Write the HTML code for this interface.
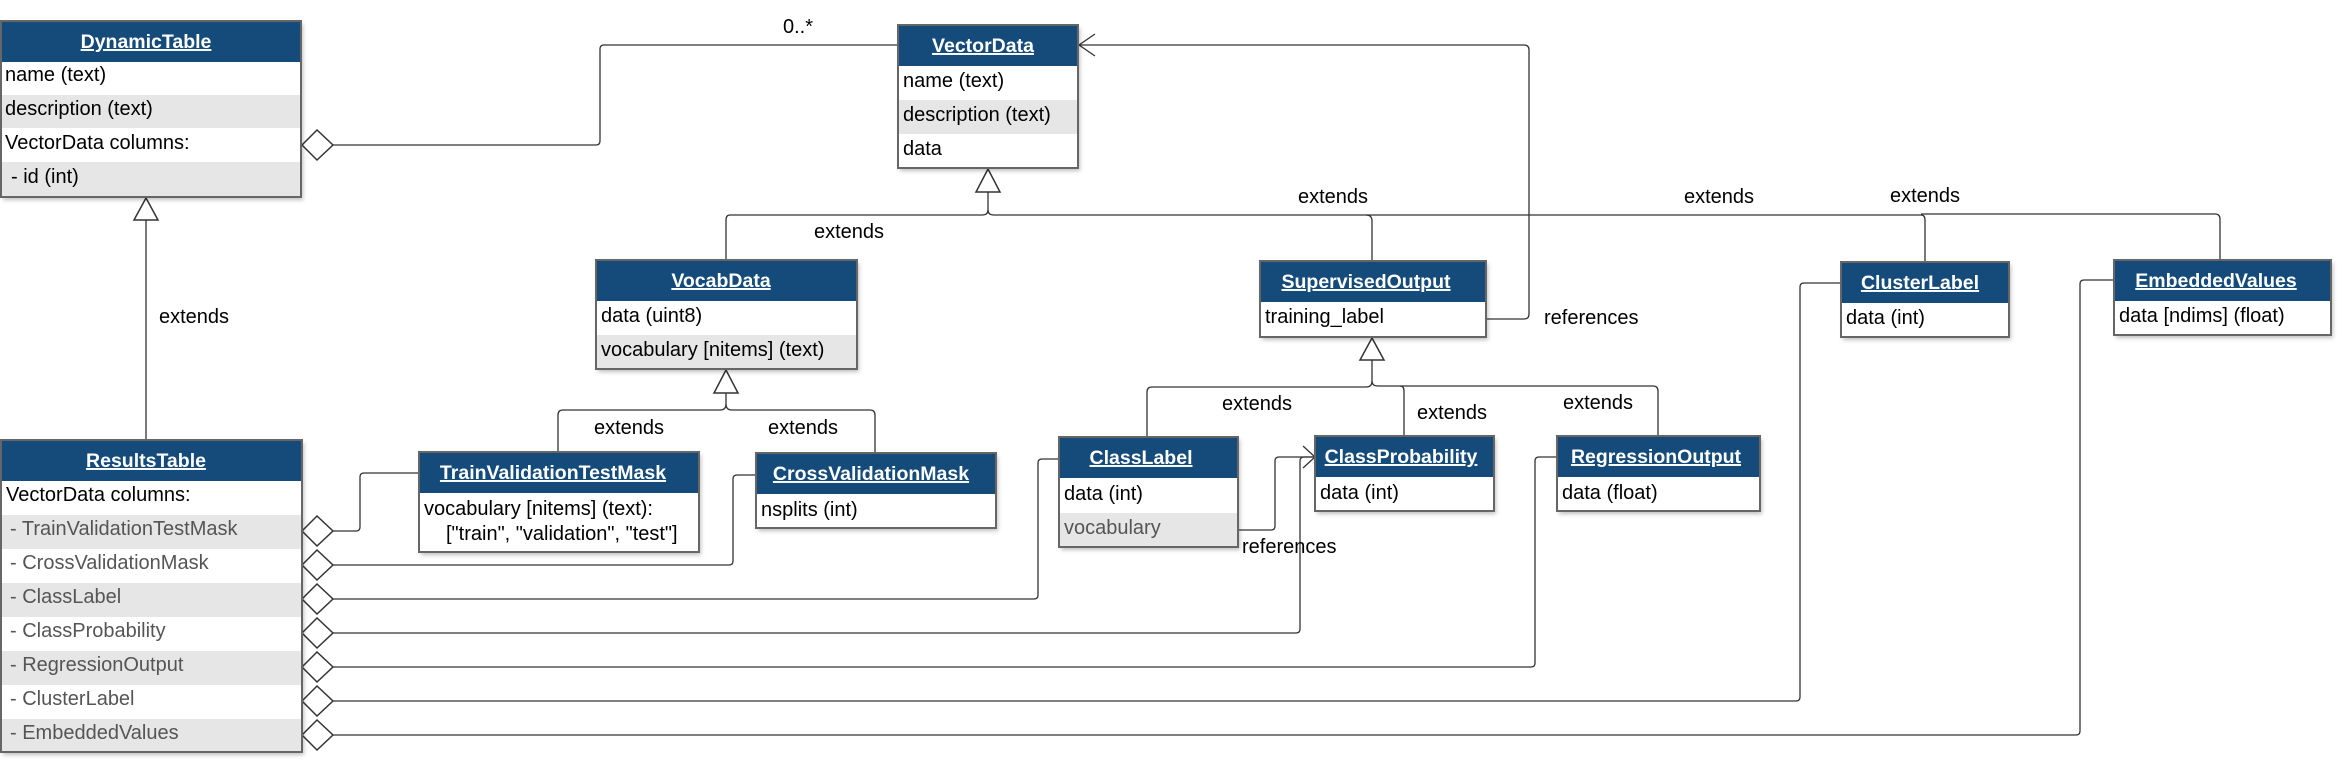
<!DOCTYPE html>
<html><head><meta charset="utf-8"><style>
html,body{margin:0;padding:0;background:#fff;}
svg{display:block;font-family:"Liberation Sans",Arial,sans-serif;}
.h{fill:#154b7a;}
.ht{fill:#fff;font-weight:bold;font-size:19.5px;text-decoration:underline;text-anchor:middle;}
.t{font-size:20px;fill:#000;}
.g{font-size:20px;fill:#555;}
.l{fill:none;stroke:#333;stroke-width:1.3;}
.b{fill:none;stroke:#666;stroke-width:2;}
</style></head><body>
<svg width="2349" height="769" viewBox="0 0 2349 769" xmlns="http://www.w3.org/2000/svg">
<defs><filter id="s" x="-5%" y="-5%" width="115%" height="120%"><feDropShadow dx="2" dy="3" stdDeviation="2" flood-color="#000" flood-opacity="0.25"/></filter></defs>

<!-- connectors -->
<path class="l" d="M333 145 H596 Q600 145 600 141 V49 Q600 45 604 45 H898"/>
<text class="t" x="798" y="33" text-anchor="middle">0..*</text>
<path class="l" d="M146 220 V440"/>
<text class="t" x="194" y="323" text-anchor="middle">extends</text>
<path class="l" stroke-width="2" d="M988 192 V210 Q988 215 994 215 H1921"/>
<path class="l" d="M988 210 Q988 215 982 215 H730 Q726 215 726 220 V260"/>
<text class="t" x="849" y="238" text-anchor="middle">extends</text>
<path class="l" d="M1921 215 Q1925 215 1925 220 V262"/>
<path class="l" d="M1921 214 H2215 Q2220 214 2220 219 V260"/>
<path class="l" d="M1366 215 Q1372 215 1372 221 V261"/>
<text class="t" x="1333" y="203" text-anchor="middle">extends</text>
<text class="t" x="1719" y="203" text-anchor="middle">extends</text>
<text class="t" x="1925" y="202" text-anchor="middle">extends</text>
<path class="l" d="M1079 45 H1524 Q1529 45 1529 50 V314 Q1529 319 1524 319 H1486"/>
<path class="l" d="M1095 34 L1079 45 L1095 56"/>
<text class="t" x="1544" y="324">references</text>
<path class="l" d="M1372 360 V381 Q1372 387 1366 387 H1152 Q1147 387 1147 392 V437"/>
<path class="l" d="M1372 381 Q1372 386 1378 386 H1653 Q1658 386 1658 391 V436"/>
<path class="l" d="M1400 386 Q1404 386 1404 391 V436"/>
<text class="t" x="1257" y="410" text-anchor="middle">extends</text>
<text class="t" x="1452" y="419" text-anchor="middle">extends</text>
<text class="t" x="1598" y="409" text-anchor="middle">extends</text>
<path class="l" d="M726 393 V404 Q726 410 720 410 H563 Q558 410 558 415 V452"/>
<path class="l" d="M726 404 Q726 410 732 410 H870 Q875 410 875 415 V453"/>
<text class="t" x="629" y="434" text-anchor="middle">extends</text>
<text class="t" x="803" y="434" text-anchor="middle">extends</text>
<!-- diamond connectors -->
<path class="l" d="M333 531 H356 Q360 531 360 527 V477 Q360 473 364 473 H419"/>
<path class="l" d="M333 565 H729 Q733 565 733 561 V479 Q733 475 737 475 H756"/>
<path class="l" d="M333 599 H1034 Q1038 599 1038 595 V463 Q1038 459 1042 459 H1059"/>
<path class="l" d="M333 633 H1296 Q1300 633 1300 629 V461 Q1300 457 1304 457 H1315"/>
<path class="l" d="M1238 530 H1271 Q1275 530 1275 526 V461 Q1275 457 1279 457 H1315"/>
<path class="l" d="M1303 446 L1315 457 L1303 468"/>
<text class="t" x="1242" y="553">references</text>
<path class="l" d="M333 667 H1531 Q1535 667 1535 663 V461 Q1535 457 1539 457 H1557"/>
<path class="l" d="M333 701 H1796 Q1800 701 1800 697 V287 Q1800 283 1804 283 H1841"/>
<path class="l" d="M333 735 H2076 Q2080 735 2080 731 V284 Q2080 280 2084 280 H2114"/>
<!-- triangles -->
<path fill="#fff" stroke="#333" stroke-width="1.5" d="M988 169 L976 192 H1000 Z"/>
<path fill="#fff" stroke="#333" stroke-width="1.5" d="M146 198 L134 220 H158 Z"/>
<path fill="#fff" stroke="#333" stroke-width="1.5" d="M726 370 L714 393 H738 Z"/>
<path fill="#fff" stroke="#333" stroke-width="1.5" d="M1372 338 L1360 360 H1384 Z"/>
<!-- diamonds -->
<g fill="#fff" stroke="#333" stroke-width="1.5">
<path d="M302 145 L317 130 L333 145 L317 160 Z"/>
<path d="M302 531 L317 516 L333 531 L317 546 Z"/>
<path d="M302 565 L317 550 L333 565 L317 580 Z"/>
<path d="M302 599 L317 584 L333 599 L317 614 Z"/>
<path d="M302 633 L317 618 L333 633 L317 648 Z"/>
<path d="M302 667 L317 652 L333 667 L317 682 Z"/>
<path d="M302 701 L317 686 L333 701 L317 716 Z"/>
<path d="M302 735 L317 720 L333 735 L317 750 Z"/>
</g>

<!-- DynamicTable -->
<g filter="url(#s)"><rect x="1" y="21" width="300" height="176" fill="#fff"/></g>
<rect class="h" x="1" y="21" width="300" height="41"/>
<rect x="1" y="95" width="300" height="33" fill="#e6e6e6"/>
<rect x="1" y="162" width="300" height="35" fill="#e6e6e6"/>
<rect class="b" x="1" y="21" width="300" height="176"/>
<text class="ht" x="146" y="48">DynamicTable</text>
<text class="t" x="5" y="81">name (text)</text>
<text class="t" x="5" y="115">description (text)</text>
<text class="t" x="5" y="149">VectorData columns:</text>
<text class="t" x="11" y="183">- id (int)</text>

<!-- VectorData -->
<g filter="url(#s)"><rect x="898" y="25" width="180" height="143" fill="#fff"/></g>
<rect class="h" x="898" y="25" width="180" height="41"/>
<rect x="898" y="100" width="180" height="34" fill="#e6e6e6"/>
<rect class="b" x="898" y="25" width="180" height="143"/>
<text class="ht" x="983" y="52">VectorData</text>
<text class="t" x="903" y="87">name (text)</text>
<text class="t" x="903" y="121">description (text)</text>
<text class="t" x="903" y="155">data</text>

<!-- VocabData -->
<g filter="url(#s)"><rect x="596" y="260" width="261" height="109" fill="#fff"/></g>
<rect class="h" x="596" y="260" width="261" height="41"/>
<rect x="596" y="335" width="261" height="34" fill="#e6e6e6"/>
<rect class="b" x="596" y="260" width="261" height="109"/>
<text class="ht" x="721" y="287">VocabData</text>
<text class="t" x="601" y="322">data (uint8)</text>
<text class="t" x="601" y="356">vocabulary [nitems] (text)</text>

<!-- SupervisedOutput -->
<g filter="url(#s)"><rect x="1260" y="261" width="226" height="76" fill="#fff"/></g>
<rect class="h" x="1260" y="261" width="226" height="41"/>
<rect class="b" x="1260" y="261" width="226" height="76"/>
<text class="ht" x="1366" y="288">SupervisedOutput</text>
<text class="t" x="1265" y="323">training_label</text>

<!-- ClusterLabel -->
<g filter="url(#s)"><rect x="1841" y="262" width="168" height="75" fill="#fff"/></g>
<rect class="h" x="1841" y="262" width="168" height="41"/>
<rect class="b" x="1841" y="262" width="168" height="75"/>
<text class="ht" x="1920" y="289">ClusterLabel</text>
<text class="t" x="1846" y="324">data (int)</text>

<!-- EmbeddedValues -->
<g filter="url(#s)"><rect x="2114" y="260" width="217" height="75" fill="#fff"/></g>
<rect class="h" x="2114" y="260" width="217" height="41"/>
<rect class="b" x="2114" y="260" width="217" height="75"/>
<text class="ht" x="2216" y="287">EmbeddedValues</text>
<text class="t" x="2119" y="322">data [ndims] (float)</text>

<!-- ResultsTable -->
<g filter="url(#s)"><rect x="1" y="440" width="301" height="312" fill="#fff"/></g>
<rect class="h" x="1" y="440" width="301" height="41"/>
<rect x="1" y="515" width="301" height="34" fill="#e6e6e6"/>
<rect x="1" y="583" width="301" height="34" fill="#e6e6e6"/>
<rect x="1" y="651" width="301" height="34" fill="#e6e6e6"/>
<rect x="1" y="719" width="301" height="33" fill="#e6e6e6"/>
<rect class="b" x="1" y="440" width="301" height="312"/>
<text class="ht" x="146" y="467">ResultsTable</text>
<text class="t" x="6" y="501">VectorData columns:</text>
<text class="g" x="10" y="535">- TrainValidationTestMask</text>
<text class="g" x="10" y="569">- CrossValidationMask</text>
<text class="g" x="10" y="603">- ClassLabel</text>
<text class="g" x="10" y="637">- ClassProbability</text>
<text class="g" x="10" y="671">- RegressionOutput</text>
<text class="g" x="10" y="705">- ClusterLabel</text>
<text class="g" x="10" y="739">- EmbeddedValues</text>

<!-- TrainValidationTestMask -->
<g filter="url(#s)"><rect x="419" y="452" width="280" height="100" fill="#fff"/></g>
<rect class="h" x="419" y="452" width="280" height="41"/>
<rect class="b" x="419" y="452" width="280" height="100"/>
<text class="ht" x="553" y="479">TrainValidationTestMask</text>
<text class="t" x="424" y="515">vocabulary [nitems] (text):</text>
<text class="t" x="446" y="540">["train", "validation", "test"]</text>

<!-- CrossValidationMask -->
<g filter="url(#s)"><rect x="756" y="453" width="240" height="75" fill="#fff"/></g>
<rect class="h" x="756" y="453" width="240" height="41"/>
<rect class="b" x="756" y="453" width="240" height="75"/>
<text class="ht" x="871" y="480">CrossValidationMask</text>
<text class="t" x="761" y="516">nsplits (int)</text>

<!-- ClassLabel -->
<g filter="url(#s)"><rect x="1059" y="437" width="179" height="110" fill="#fff"/></g>
<rect class="h" x="1059" y="437" width="179" height="41"/>
<rect x="1059" y="513" width="179" height="34" fill="#e6e6e6"/>
<rect class="b" x="1059" y="437" width="179" height="110"/>
<text class="ht" x="1141" y="464">ClassLabel</text>
<text class="t" x="1064" y="500">data (int)</text>
<text class="g" x="1064" y="534">vocabulary</text>

<!-- ClassProbability -->
<g filter="url(#s)"><rect x="1315" y="436" width="179" height="75" fill="#fff"/></g>
<rect class="h" x="1315" y="436" width="179" height="41"/>
<rect class="b" x="1315" y="436" width="179" height="75"/>
<text class="ht" x="1401" y="463">ClassProbability</text>
<text class="t" x="1320" y="499">data (int)</text>

<!-- RegressionOutput -->
<g filter="url(#s)"><rect x="1557" y="436" width="203" height="75" fill="#fff"/></g>
<rect class="h" x="1557" y="436" width="203" height="41"/>
<rect class="b" x="1557" y="436" width="203" height="75"/>
<text class="ht" x="1656" y="463">RegressionOutput</text>
<text class="t" x="1562" y="499">data (float)</text>
</svg>
</body></html>
